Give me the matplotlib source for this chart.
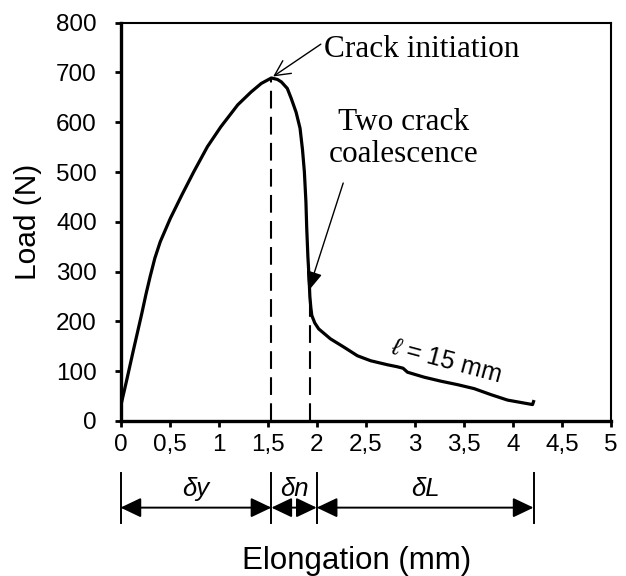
import numpy as np
import matplotlib
matplotlib.use("Agg")
import matplotlib.pyplot as plt

# load-elongation curve
elong = [0.0, 0.062, 0.13, 0.216, 0.26, 0.302, 0.35, 0.405, 0.508, 0.628, 0.748, 0.886,
         1.023, 1.195, 1.332, 1.435, 1.538, 1.60, 1.64, 1.70, 1.74, 1.79, 1.83, 1.855,
         1.874, 1.89, 1.898, 1.91, 1.922, 1.93, 1.94, 1.95, 1.98, 2.02, 2.08, 2.14,
         2.28, 2.415, 2.55, 2.72, 2.82, 2.88, 2.925, 3.095, 3.265, 3.435, 3.605,
         3.775, 3.945, 4.115, 4.2, 4.21]
load = [28, 81, 141, 215, 255, 290, 327, 360, 407, 455, 501, 551,
        591, 635, 661, 678, 689, 686, 681, 668, 648, 620, 588, 545,
        501, 440, 388, 330, 288, 250, 228, 212, 197, 185, 175, 165,
        148, 131, 121, 113, 109, 106, 98, 88, 80, 73, 65,
        53, 42, 36, 33, 39]

x_ticks = [0, 0.5, 1, 1.5, 2, 2.5, 3, 3.5, 4, 4.5, 5]
x_ticklabels = ["0", "0,5", "1", "1,5", "2", "2,5", "3", "3,5", "4", "4,5", "5"]
y_ticks = [0, 100, 200, 300, 400, 500, 600, 700, 800]

x_init, y_init = 1.538, 689      # crack initiation
x_coal, y_coal = 1.933, 250      # two crack coalescence
x_end = 4.21
dims = [(0.0, x_init, "δy"), (x_init, 2.0, "δn"), (2.0, x_end, "δL")]

plt.rcParams['font.family'] = ['Liberation Sans', 'DejaVu Sans']
plt.rcParams['mathtext.fontset'] = 'custom'
plt.rcParams['mathtext.it'] = 'Liberation Sans:italic'
plt.rcParams['mathtext.rm'] = 'Liberation Sans'

fig = plt.figure(figsize=(6.26, 5.76), dpi=100)
ax = fig.add_axes([0.1925, 0.2691, 0.7836, 0.6915])

ax.plot(elong, load, color="black", lw=2.3, solid_joinstyle="round")
ax.plot([x_init, x_init], [0, y_init], color="black", lw=1.5, ls=(0, (8.5, 4)))
ax.plot([x_coal, x_coal], [0, y_coal], color="black", lw=1.5, ls=(0, (8.5, 4)))

ax.set_xlim(0, 5)
ax.set_ylim(0, 800)
ax.set_xticks(x_ticks)
ax.set_xticklabels(x_ticklabels)
ax.set_yticks(y_ticks)
ax.tick_params(direction="out", length=4.5, width=2, labelsize=17.5)
ax.tick_params(axis="x", pad=5)
ax.tick_params(axis="y", pad=12.5)
for s in ["left", "bottom"]:
    ax.spines[s].set_linewidth(2.4)
for s in ["top", "right"]:
    ax.spines[s].set_linewidth(1.5)
ax.set_ylabel("Load (N)", fontsize=21.5)
ax.yaxis.set_label_coords(-0.16, 0.5)

ax.annotate("Crack initiation", xy=(1.556, 692), xytext=(2.07, 731),
            fontsize=22.5, family="Liberation Serif", va="baseline", ha="left",
            arrowprops=dict(arrowstyle="->,head_length=0.5,head_width=0.25",
                            color="black", lw=1, mutation_scale=22,
                            shrinkA=0, shrinkB=0, relpos=(0, 0.75)))
ax.text(2.89, 567, "Two crack\ncoalescence", fontsize=22.5, family="Liberation Serif",
        va="center", ha="center", linespacing=1.15)
ax.annotate("", xy=(1.915, 261), xytext=(2.27, 478),
            arrowprops=dict(arrowstyle="-|>,head_length=0.55,head_width=0.22",
                            color="black", lw=1, mutation_scale=22,
                            shrinkA=0, shrinkB=0))
ax.text(3.32, 121, r"$\ell$ = 15 mm", fontsize=18, rotation=-15, ha="center", va="center")

# dimension arrows below the x axis
tr = ax.get_xaxis_transform()
for x0, x1, lab in dims:
    ax.annotate("", xy=(x0, -0.2175), xytext=(x1, -0.2175), xycoords=tr, textcoords=tr,
                annotation_clip=False,
                arrowprops=dict(arrowstyle="<|-|>,head_length=0.42,head_width=0.2",
                                color="black", lw=1.4, mutation_scale=30,
                                shrinkA=0, shrinkB=0))
    ax.text((x0 + x1) / 2, -0.17, lab, transform=tr, ha="center", va="center",
            fontsize=18.5, style="italic", clip_on=False)
for xv in [0.0, x_init, 2.0, x_end]:
    ax.plot([xv, xv], [-0.131, -0.256], transform=tr, color="black", lw=1.4,
            clip_on=False)

fig.text(0.570, 0.026, "Elongation (mm)", ha="center", va="center", fontsize=22.5)

fig.savefig("out.png", dpi=100)
